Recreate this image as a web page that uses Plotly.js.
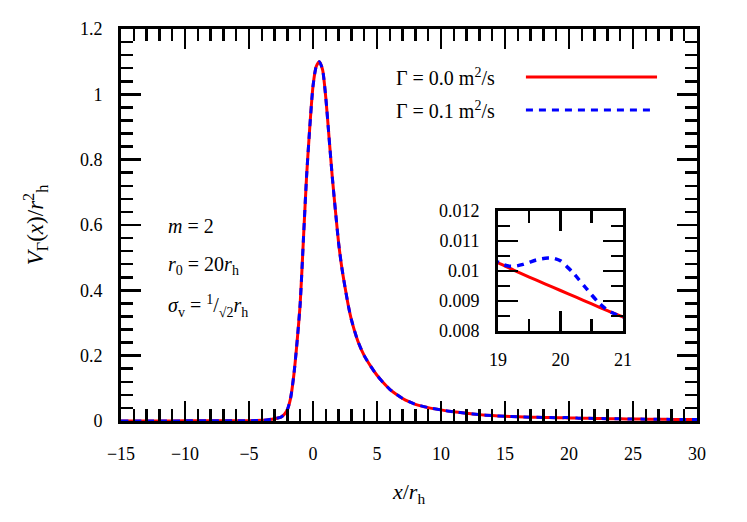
<!DOCTYPE html>
<html>
<head>
<meta charset="utf-8">
<script src="https://cdn.plot.ly/plotly-3.0.1.min.js"></script>
<style>
  body { margin: 0; background: #fff; }
  #chart { width: 747px; height: 522px; }
</style>
</head>
<body>
<div id="chart"></div>
<script>
// Gamma = 0.0 m^2/s (solid red)
const xRed = [-15, -12, -10, -8, -6, -5, -4, -3.5, -3, -2.5, -2.25, -2, -1.75, -1.5, -1.25, -1, -0.75, -0.5, -0.25,
    0, 0.25, 0.5, 0.75, 1, 1.25, 1.5, 1.75, 2, 2.25, 2.5, 2.75, 3, 3.5, 4, 4.5, 5, 5.5, 6, 6.5, 7, 7.5, 8, 9, 10,
    11, 12, 13, 14, 15, 16, 17, 18, 19, 19.25, 19.5, 19.75, 20, 20.25, 20.5, 20.75, 21, 22, 23, 24, 25, 26, 27, 28, 29, 30];
const yRed = [0.0003, 0.0003, 0.0004, 0.0005, 0.0008, 0.001, 0.002, 0.004, 0.007, 0.012, 0.02, 0.035, 0.07, 0.14, 0.24, 0.36, 0.555, 0.75, 0.9,
    1.025, 1.085, 1.1, 1.075, 0.99, 0.87, 0.75, 0.645, 0.545, 0.47, 0.41, 0.355, 0.31, 0.245, 0.2, 0.168, 0.14, 0.117, 0.097, 0.082, 0.069, 0.059, 0.051, 0.041, 0.034,
    0.028, 0.0235, 0.0195, 0.0165, 0.0145, 0.013, 0.0118, 0.011, 0.01027, 0.01003, 0.0098, 0.00957, 0.00935, 0.00913, 0.0089, 0.00868, 0.00847,
    0.0078, 0.0072, 0.0066, 0.0061, 0.0057, 0.0053, 0.0049, 0.0046, 0.0043];

// Gamma = 0.1 m^2/s (dashed blue)
const xBlue = [-15, -12, -10, -8, -6, -5, -4, -3.5, -3, -2.5, -2.25, -2, -1.75, -1.5, -1.25, -1, -0.75, -0.5, -0.25,
    0, 0.25, 0.5, 0.75, 1, 1.25, 1.5, 1.75, 2, 2.25, 2.5, 2.75, 3, 3.5, 4, 4.5, 5, 5.5, 6, 6.5, 7, 7.5, 8, 9, 10,
    11, 12, 13, 14, 15, 16, 17, 18, 19, 19.1, 19.2, 19.3, 19.4, 19.5, 19.6, 19.7, 19.8, 19.9, 20, 20.1, 20.2, 20.3,
    20.4, 20.5, 20.6, 20.7, 20.8, 20.9, 21, 22, 23, 24, 25, 26, 27, 28, 29, 30];
const yBlue = [0.0003, 0.0003, 0.0004, 0.0005, 0.0008, 0.001, 0.002, 0.004, 0.007, 0.012, 0.02, 0.035, 0.07, 0.14, 0.24, 0.36, 0.555, 0.75, 0.9,
    1.025, 1.085, 1.1, 1.075, 0.99, 0.87, 0.75, 0.645, 0.545, 0.47, 0.41, 0.355, 0.31, 0.245, 0.2, 0.168, 0.14, 0.117, 0.097, 0.082, 0.069, 0.059, 0.051, 0.041, 0.034,
    0.028, 0.0235, 0.0195, 0.0165, 0.0145, 0.013, 0.0118, 0.011, 0.0103, 0.0102, 0.01016, 0.01017, 0.01022, 0.01029, 0.01036, 0.01041, 0.01043, 0.01042,
    0.01034, 0.01015, 0.00995, 0.0097, 0.00945, 0.0092, 0.00897, 0.00878, 0.00864, 0.00854, 0.00847,
    0.0078, 0.0072, 0.0066, 0.0061, 0.0057, 0.0053, 0.0049, 0.0046, 0.0043];

const sp = "&nbsp;";
const legendLabels = [
    "Γ" + sp + "=" + sp + "0.0" + sp + "m<sup>2</sup>/s",
    "Γ" + sp + "=" + sp + "0.1" + sp + "m<sup>2</sup>/s"
];
const paramLabels = [
    "<i>m</i>" + sp + "=" + sp + "2",
    "<i>r</i><sub>0</sub>" + sp + "=" + sp + "20<i>r</i><sub>h</sub>",
    "<i>σ</i><sub>v</sub>" + sp + "=" + sp + "<sup>1</sup>/<sub>√2</sub><i>r</i><sub>h</sub>"
];

const FONT = "Liberation Serif, Times New Roman, serif";
const RED = "#ff0000";
const BLUE = "#0000ff";

function frameAxis(extra) {
    return Object.assign({
        showline: true,
        linewidth: 3,
        linecolor: "black",
        mirror: "allticks",
        ticks: "inside",
        ticklen: 20,
        tickwidth: 2.5,
        tickcolor: "black",
        showgrid: false,
        zeroline: false,
        tickfont: { family: FONT, size: 18, color: "black" }
    }, extra);
}

const traces = [
    { x: xRed, y: yRed, type: "scatter", mode: "lines", line: { color: RED, width: 3, shape: "spline", smoothing: 0.6 }, xaxis: "x", yaxis: "y" },
    { x: xBlue, y: yBlue, type: "scatter", mode: "lines", line: { color: BLUE, width: 3, dash: "7px,6px", shape: "spline", smoothing: 0.6 }, xaxis: "x", yaxis: "y" },
    { x: xRed, y: yRed, type: "scatter", mode: "lines", line: { color: RED, width: 3, shape: "spline", smoothing: 0.6 }, xaxis: "x2", yaxis: "y2" },
    { x: xBlue, y: yBlue, type: "scatter", mode: "lines", line: { color: BLUE, width: 3.5, dash: "7px,6px", shape: "spline", smoothing: 0.6 }, xaxis: "x2", yaxis: "y2" }
];

const annotations = [
    { text: legendLabels[0], x: 0.652, y: 0.8776 },
    { text: legendLabels[1], x: 0.652, y: 0.7934 }
].map(a => Object.assign({
    xref: "paper", yref: "paper", xanchor: "right", yanchor: "middle", showarrow: false,
    font: { family: FONT, size: 20, color: "black" }
}, a));

[0.497, 0.396, 0.294].forEach((yy, i) => {
    annotations.push({
        text: paramLabels[i], x: 0.078, y: yy, xref: "paper", yref: "paper",
        xanchor: "left", yanchor: "middle", showarrow: false,
        font: { family: FONT, size: 20, color: "black" }
    });
});

const layout = {
    width: 747,
    height: 522,
    margin: { l: 121, r: 50, t: 29, b: 101 },
    paper_bgcolor: "white",
    plot_bgcolor: "white",
    showlegend: false,
    xaxis: frameAxis({
        range: [-15, 30], dtick: 5, tick0: 0, domain: [0, 1], anchor: "y",
        ticklabelstandoff: 14,
        minor: { ticks: "inside", ticklen: 12, dtick: 1, tickwidth: 2.5, tickcolor: "black" },
        title: { text: "<i>x</i>/<i>r</i><sub>h</sub>", font: { family: FONT, size: 22, color: "black" }, standoff: 22 }
    }),
    yaxis: frameAxis({
        range: [0, 1.2], dtick: 0.2, tick0: 0, domain: [0, 1], anchor: "x",
        ticklabelstandoff: 12,
        minor: { ticks: "inside", ticklen: 12, dtick: 0.04, tickwidth: 2.5, tickcolor: "black" },
        title: { text: "<i>V</i><sub>Γ</sub>(<i>x</i>)/<i>r</i><sup>2</sup><sub>h</sub>", font: { family: FONT, size: 23, color: "black" }, standoff: 30 }
    }),
    xaxis2: frameAxis({
        range: [19, 21], dtick: 1, tick0: 19, domain: [0.6545, 0.8715], anchor: "y2",
        ticklabelstandoff: 10,
        minor: { ticks: "inside", ticklen: 12, dtick: 0.5, tickwidth: 2.5, tickcolor: "black" }
    }),
    yaxis2: frameAxis({
        range: [0.008, 0.012], dtick: 0.001, tick0: 0.008, domain: [0.2296, 0.5357], anchor: "x2",
        ticklabelstandoff: 12,
        minor: { ticks: "inside", ticklen: 12, dtick: 0.0005, tickwidth: 2.5, tickcolor: "black" }
    }),
    shapes: [
        { type: "line", xref: "paper", yref: "paper", x0: 0.703, x1: 0.9306, y0: 0.8776, y1: 0.8776, line: { color: RED, width: 3 } },
        { type: "line", xref: "paper", yref: "paper", x0: 0.703, x1: 0.9236, y0: 0.7934, y1: 0.7934, line: { color: BLUE, width: 3, dash: "7px,6px" } }
    ],
    annotations: annotations
};

Plotly.newPlot("chart", traces, layout, { displayModeBar: false, staticPlot: true });
</script>
</body>
</html>
